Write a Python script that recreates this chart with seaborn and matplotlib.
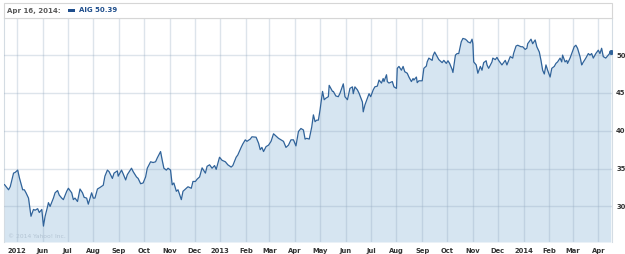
import matplotlib
matplotlib.use("Agg")
import matplotlib.pyplot as plt
import seaborn as sns
import pandas as pd
from matplotlib.patches import Rectangle

# ---------------- data ----------------
start_date = "2012-04-16"
days_since_start = [
    0, 5, 7, 11, 13, 16, 18, 22, 24, 26, 29, 32, 35, 37, 40, 42, 45, 47, 49, 52,
    53, 55, 59, 61, 64, 66, 69, 71, 75, 77, 81, 83, 85, 88, 91, 94, 96, 99, 101, 105,
    107, 109, 112, 115, 119,
    121, 124, 126, 130, 132, 136, 137, 141, 143, 146, 148, 153, 155, 159, 161, 164, 167, 170, 172, 176,
    179, 182, 184, 188, 190, 192, 195, 197, 200, 202, 204, 207, 209, 213, 215, 219, 221, 225, 227, 230,
    232, 235, 238,
    242, 244, 247, 250, 253, 255, 259, 262, 266, 269, 273, 275, 279, 281, 285, 287, 290, 292, 296, 298,
    303, 306, 308, 310, 312, 315, 318, 321, 324, 327, 330, 333, 336, 339, 342, 345, 348, 351, 354, 357,
    360, 362, 364, 367,
    370, 372, 374, 376, 378, 380, 383, 385, 387, 390, 391, 395, 396, 399, 402, 404, 408, 410, 413, 416,
    419, 420, 422, 425, 427, 431, 432, 434, 437, 439, 441, 444, 446, 449, 451, 454, 456, 457, 460, 461,
    463, 467, 469, 472, 473, 475, 478, 480, 482,
    485, 487, 490, 492, 493, 496, 497, 499, 503, 505, 508, 509, 511, 515, 516, 518, 521, 523, 527, 529,
    532, 534, 536, 539, 540, 543, 545, 547, 550, 552, 555, 557, 558, 561, 563, 564, 565, 568, 570, 573,
    575, 577, 580, 581, 583, 587, 588, 591, 593, 595, 599,
    603, 605, 609, 612, 613, 616, 618, 622, 624, 627, 629, 630, 634, 636, 639, 641, 644, 646, 648, 650,
    652, 654, 657, 659, 662, 664, 666, 669, 671, 672, 675, 677, 678, 681, 683, 686, 688, 690, 693, 695,
    696, 700, 703, 705, 707, 709, 712, 715, 717, 719, 721, 724, 727, 730,
]
close_price = [
    32.9, 32.2, 32.6, 34.4, 34.5, 34.8, 33.8, 32.2, 32.2, 31.8, 31.1, 28.7, 29.6, 29.5, 29.7, 29.2, 29.6, 27.4, 28.7, 30.0,
    30.5, 30.0, 31.1, 31.8, 32.1, 31.5, 31.1, 30.9, 32.0, 32.4, 31.8, 30.9, 31.1, 30.65, 32.3, 31.8, 31.2, 31.1, 30.3, 31.8,
    31.1, 31.1, 32.3, 32.5, 32.8,
    34.0, 34.8, 34.6, 33.7, 34.4, 34.7, 34.0, 34.8, 34.3, 33.5, 34.2, 35.05, 34.6, 33.9, 33.7, 33.0, 33.1, 33.9, 35.05, 35.9,
    35.8, 35.9, 36.4, 37.25, 36.1, 35.05, 34.8, 35.05, 34.8, 32.85, 33.1, 32.0, 32.2, 30.9, 32.0, 32.4, 32.6, 32.4, 33.3, 33.3,
    33.6, 33.9, 35.1,
    34.4, 35.3, 35.5, 35.05, 35.4, 34.9, 36.5, 36.1, 35.9, 35.5, 35.2, 35.4, 36.5, 36.8, 37.8, 38.25, 38.8, 38.6, 38.9, 39.2,
    39.15, 38.35, 37.5, 37.8, 37.25, 37.9, 38.1, 38.6, 39.6, 39.3, 39.0, 38.8, 38.6, 37.8, 38.1, 38.8, 38.8, 38.0, 39.9, 40.3,
    40.1, 38.9, 39.0, 38.9,
    40.5, 42.1, 41.2, 41.4, 41.4, 42.75, 45.2, 44.1, 44.3, 44.5, 46.0, 45.2, 45.2, 44.6, 44.5, 44.95, 46.2, 44.5, 44.1, 45.6,
    45.8, 44.9, 45.8, 45.4, 44.95, 43.8, 42.5, 43.4, 44.3, 44.9, 44.5, 45.4, 45.8, 45.9, 46.7, 46.3, 46.9, 46.5, 47.4, 46.5,
    46.3, 46.5, 45.8, 45.6, 48.25, 48.5, 48.0, 48.5, 47.8,
    47.6, 47.1, 46.5, 46.9, 46.7, 47.1, 46.35, 46.6, 46.6, 48.25, 48.55, 49.1, 49.6, 49.3, 49.9, 50.4, 49.8, 49.4, 49.0, 49.3,
    48.9, 49.25, 48.9, 48.1, 47.7, 50.0, 50.2, 50.2, 51.75, 52.2, 52.1, 51.9, 51.75, 51.6, 52.1, 51.5, 49.1, 48.7, 47.6, 48.5,
    48.0, 49.0, 49.25, 48.7, 48.25, 49.1, 49.6, 49.4, 49.7, 49.3, 48.7,
    49.3, 48.7, 49.8, 49.6, 50.2, 51.2, 51.3, 51.1, 51.1, 50.75, 50.9, 51.5, 52.1, 51.5, 52.0, 51.1, 50.4, 49.3, 48.0, 47.5,
    48.7, 48.0, 47.1, 48.25, 48.5, 48.9, 49.1, 49.6, 49.1, 50.0, 49.1, 49.3, 48.9, 49.6, 50.2, 51.1, 51.3, 50.9, 49.8, 48.7,
    48.9, 49.6, 50.2, 50.0, 50.2, 49.6, 50.2, 50.65, 50.2, 50.9, 49.8, 49.6, 50.0, 50.39,
]
tick_start, tick_end = "2012-05-01", "2014-04-01"
tick_labels = ["2012", "Jun", "Jul", "Aug", "Sep", "Oct", "Nov", "Dec",
               "2013", "Feb", "Mar", "Apr", "May", "Jun", "Jul", "Aug",
               "Sep", "Oct", "Nov", "Dec", "2014", "Feb", "Mar", "Apr"]
y_ticks = [30, 35, 40, 45, 50]
header_date = "Apr 16, 2014:"
header_series = "AIG 50.39"
watermark = "\u00a9 2014 Yahoo! Inc."

# ---------------- style ----------------
sns.set_style("white")
plt.rcParams["font.family"] = ["DejaVu Sans"]

LINE = "#30639a"
FILL = "#d6e5f1"
GRID = "#8fa6bd"
TXT = "#333333"

df = pd.DataFrame({
    "date": pd.Timestamp(start_date) + pd.to_timedelta(days_since_start, unit="D"),
    "close": close_price,
})

W, H = 625, 254
fig = plt.figure(figsize=(W / 100, H / 100), dpi=100)
fig.patch.set_facecolor("white")
ax = fig.add_axes([4 / W, 1 - 242 / H, (612 - 4) / W, (242 - 18) / H])

ymin, ymax = 25.3, 54.9
ax.fill_between(df["date"], df["close"], ymin, color=FILL, linewidth=0, zorder=1)
sns.lineplot(data=df, x="date", y="close", ax=ax, color=LINE, linewidth=0.9, zorder=3)
ax.plot(df["date"].iloc[-1], df["close"].iloc[-1], "o", color=LINE, markersize=2.6, zorder=4)

ax.set_ylim(ymin, ymax)
ax.set_xlim(pd.Timestamp(start_date) - pd.Timedelta(days=0.5),
            pd.Timestamp(start_date) + pd.Timedelta(days=731.5))

ticks = pd.date_range(tick_start, tick_end, freq="MS")
ax.set_xticks(ticks)
ax.set_xticklabels(tick_labels, fontsize=4.9, fontweight="bold", color=TXT)
ax.set_yticks(y_ticks)
ax.set_yticklabels([str(v) for v in y_ticks], fontsize=4.9, fontweight="bold", color=TXT)
ax.yaxis.tick_right()
ax.tick_params(axis="both", length=0)
ax.tick_params(axis="x", pad=4)
ax.tick_params(axis="y", pad=3)
ax.set_xlabel("")
ax.set_ylabel("")
ax.grid(True, color=GRID, alpha=0.3, linewidth=1.0, zorder=2)
ax.set_axisbelow(False)
for name, sp in ax.spines.items():
    sp.set_color("#d4dce3")
    sp.set_linewidth(0.8)
ax.spines["bottom"].set_visible(False)

ax.text(0.006, 0.012, watermark, transform=ax.transAxes, fontsize=4.3,
        color="#b3c4d3", ha="left", va="bottom", zorder=5)

# header box
fig.patches.append(Rectangle((4 / W, 1 - 18 / H), (612 - 4) / W, 15 / H,
                             transform=fig.transFigure, facecolor="white",
                             edgecolor="#d6d6d6", linewidth=0.8))
fig.text(7 / W, 1 - 10.5 / H, header_date, fontsize=5.0, fontweight="bold",
         color="#5a5a5a", ha="left", va="center")
fig.patches.append(Rectangle((68 / W, 1 - 12 / H), 7 / W, 3 / H,
                             transform=fig.transFigure, facecolor="#1f4e8c",
                             edgecolor="none"))
fig.text(79 / W, 1 - 10.5 / H, header_series, fontsize=5.0, fontweight="bold",
         color="#1f4e8c", ha="left", va="center")

fig.savefig("out.png", dpi=100, facecolor="white")
